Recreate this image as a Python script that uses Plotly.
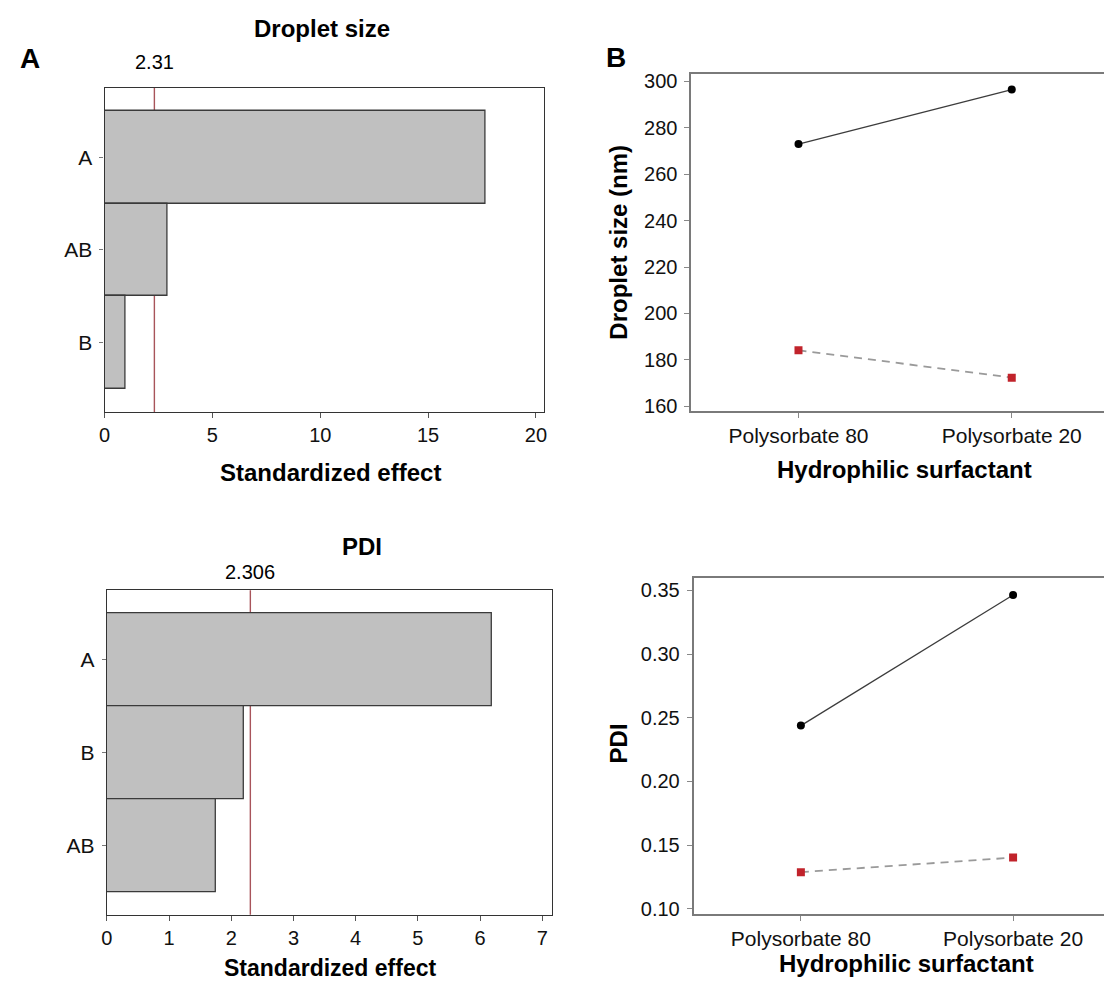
import plotly.graph_objects as go

# ---------------- data ----------------
terms_droplet = ["A", "AB", "B"]
effects_droplet = [17.64, 2.94, 0.97]
crit_droplet = 2.31

terms_pdi = ["A", "B", "AB"]
effects_pdi = [6.19, 2.21, 1.76]
crit_pdi = 2.306

surfactants = ["Polysorbate 80", "Polysorbate 20"]
droplet_black = [273.0, 296.5]
droplet_red = [184.1, 172.3]
pdi_black = [0.2438, 0.3463]
pdi_red = [0.1287, 0.1401]

# ---------------- layout helpers ----------------
# page has an 8px body margin: figure is drawn from (8, 8)
OFF = 8
W, H = 1104, 975
def px(x):
    return (x - OFF) / W
def py(y):
    return 1 - (y - OFF) / H

FONT = "Liberation Sans, Arial, sans-serif"
TICKF = dict(family=FONT, size=20, color="#111")
CATF = dict(family=FONT, size=21, color="#111")

fig = go.Figure()

# ---- Pareto charts (left) ----
def pareto(terms, effects, xa, ya):
    fig.add_trace(go.Bar(
        x=effects, y=terms, orientation="h", width=1,
        marker=dict(color="#c0c0c0", line=dict(color="#3a3a3a", width=1.3)),
        xaxis=xa, yaxis=ya, showlegend=False, hoverinfo="x+y"))

pareto(terms_droplet, effects_droplet, "x", "y")
pareto(terms_pdi, effects_pdi, "x2", "y2")

# ---- interaction plots (right) ----
def interaction(black, red, xa, ya):
    fig.add_trace(go.Scatter(
        x=[0, 1], y=black, mode="lines+markers",
        line=dict(color="#3c3c3c", width=1.3),
        marker=dict(color="#000", size=8, symbol="circle"),
        xaxis=xa, yaxis=ya, showlegend=False))
    fig.add_trace(go.Scatter(
        x=[0, 1], y=red, mode="lines+markers",
        line=dict(color="#9a9a9a", width=1.8, dash="8px,6px"),
        marker=dict(color="#c1232b", size=8, symbol="square"),
        xaxis=xa, yaxis=ya, showlegend=False))

interaction(droplet_black, droplet_red, "x3", "y3")
interaction(pdi_black, pdi_red, "x4", "y4")

# axis styles
left_x = dict(showline=True, linecolor="#333", linewidth=1.3, mirror=True,
              ticks="outside", ticklen=5, tickcolor="#555", tickwidth=1,
              showgrid=False, zeroline=False, tickfont=TICKF,
              ticklabelstandoff=0)
left_y = dict(showline=True, linecolor="#333", linewidth=1.3, mirror=True,
              ticks="outside", ticklen=4, tickcolor="#777", tickwidth=1,
              showgrid=False, zeroline=False, tickfont=CATF,
              ticklabelstandoff=3)
right_x = dict(showline=True, linecolor="#7a7a7a", linewidth=2, mirror=True,
               ticks="outside", ticklen=5, tickcolor="#888", tickwidth=1,
               showgrid=False, zeroline=False, tickfont=CATF,
               tickvals=[0, 1], ticktext=surfactants, ticklabelstandoff=0)
right_y = dict(showline=True, linecolor="#7a7a7a", linewidth=2, mirror=False,
               ticks="outside", ticklen=5, tickcolor="#888", tickwidth=1,
               showgrid=False, zeroline=False, tickfont=TICKF,
               ticklabelstandoff=3)

fig.update_layout(
    width=W, height=H, autosize=False,
    margin=dict(l=0, r=0, t=0, b=0),
    paper_bgcolor="white", plot_bgcolor="white",
    font=dict(family=FONT),
    bargap=0,
    xaxis=dict(left_x, domain=[px(99.3), px(542.3)], range=[0, 20.37],
               tickvals=[0, 5, 10, 15, 20], anchor="y"),
    yaxis=dict(left_y, domain=[py(413.3), py(85.7)], range=[-0.755, 2.749],
               categoryorder="array", categoryarray=["B", "AB", "A"], anchor="x"),
    xaxis2=dict(left_x, domain=[px(101.7), px(550)], range=[0, 7.15],
                tickvals=list(range(8)), anchor="y2"),
    yaxis2=dict(left_y, domain=[py(921), py(593.3)], range=[-0.74, 2.75],
                categoryorder="array", categoryarray=["AB", "B", "A"], anchor="x2"),
    xaxis3=dict(right_x, domain=[px(691), 1.0], range=[-0.502, 1.456], anchor="y3"),
    yaxis3=dict(right_y, domain=[py(411.7), py(71.7)], range=[158.1, 303.2],
                tickvals=[160, 180, 200, 220, 240, 260, 280, 300], anchor="x3"),
    xaxis4=dict(right_x, domain=[px(693.3), 1.0], range=[-0.505, 1.452], anchor="y4"),
    yaxis4=dict(right_y, domain=[py(920), py(581)], range=[0.0961, 0.3596],
                tickvals=[0.10, 0.15, 0.20, 0.25, 0.30, 0.35], tickformat=".2f",
                anchor="x4"),
)

# critical value lines
for xa, ya, c in [("x", "y", crit_droplet), ("x2", "y2", crit_pdi)]:
    fig.add_shape(type="line", xref=xa, yref=ya + " domain", x0=c, x1=c, y0=0, y1=1,
                  line=dict(color="#a8545a", width=1.4), layer="below")

# annotations
def ann(text, x, y, xref="paper", size=20, bold=False, angle=0):
    fig.add_annotation(
        text=f"<b>{text}</b>" if bold else text,
        x=x, y=py(y), xref=xref, yref="paper", xanchor="center", yanchor="middle",
        showarrow=False, textangle=angle,
        font=dict(family=FONT, size=size, color="#000"))

ann("A", px(24), 56, size=28, bold=True)
ann("B", px(615), 55, size=28, bold=True)
ann("Droplet size", px(319), 26, size=24, bold=True)
ann(str(crit_droplet), crit_droplet, 59.5, xref="x")
ann("Standardized effect", px(327), 474, size=24, bold=True)
ann("PDI", px(359), 549, size=24, bold=True)
ann(str(crit_pdi), crit_pdi, 575, xref="x2")
ann("Standardized effect", px(327), 975, size=23, bold=True)
ann("Hydrophilic surfactant", px(906), 471, size=24, bold=True)
ann("Hydrophilic surfactant", px(908), 970, size=24, bold=True)
ann("Droplet size (nm)", px(618), 242, size=24, bold=True, angle=-90)
ann("PDI", px(617), 748, size=24, bold=True, angle=-90)

fig.write_html("out.html")
